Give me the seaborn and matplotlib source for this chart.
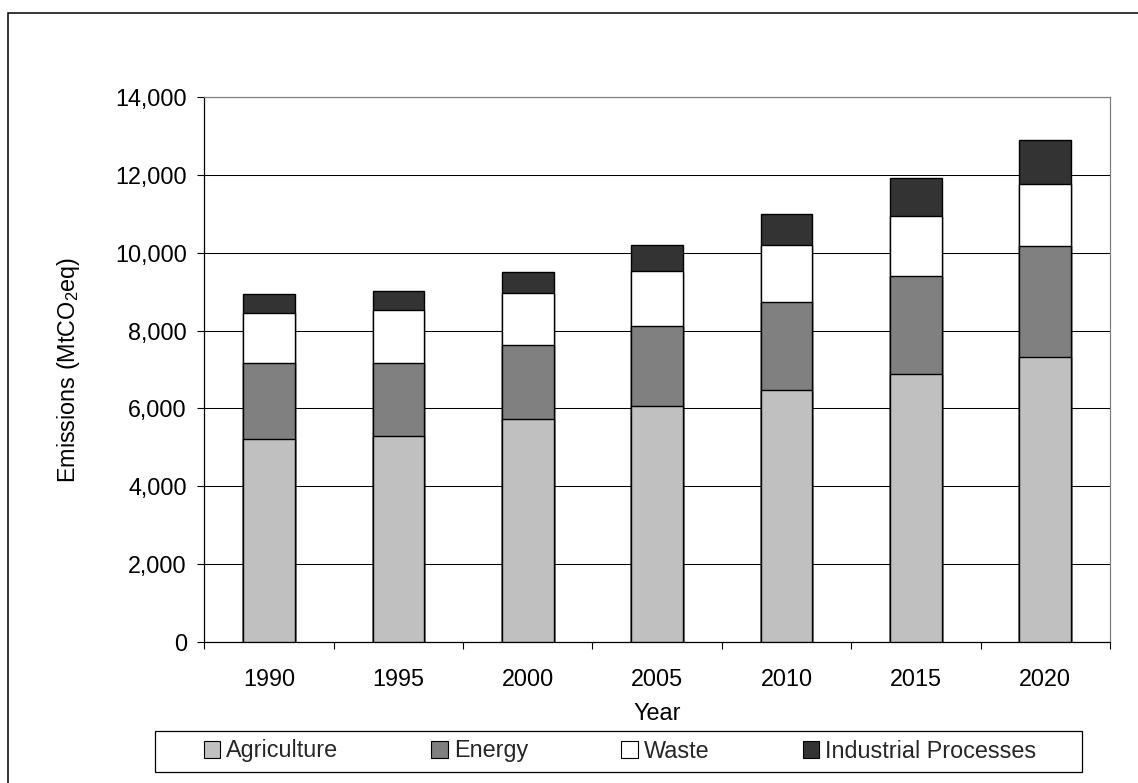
import numpy as np
import pandas as pd
import matplotlib
matplotlib.use("Agg")
import matplotlib.pyplot as plt
import seaborn as sns
from matplotlib.patches import Patch, Rectangle
from matplotlib.ticker import FuncFormatter, MultipleLocator

years = ["1990", "1995", "2000", "2005", "2010", "2015", "2020"]
agriculture = [5220, 5300, 5730, 6060, 6470, 6875, 7320]
energy = [1940, 1875, 1890, 2050, 2270, 2535, 2850]
waste = [1285, 1360, 1350, 1420, 1465, 1535, 1600]
industrial = [485, 490, 540, 670, 795, 975, 1125]

sectors = ["Agriculture", "Energy", "Waste", "Industrial Processes"]
colors = ["#c0c0c0", "#808080", "#ffffff", "#333333"]

df = pd.DataFrame({
    "Year": years,
    "Agriculture": agriculture,
    "Energy": energy,
    "Waste": waste,
    "Industrial Processes": industrial,
})
# stacked tops, drawn from the tallest down so the lower parts cover them
tops = df[sectors].cumsum(axis=1)
tops["Year"] = df["Year"]

sns.set_theme(style="white")
plt.rcParams["font.family"] = ["Liberation Sans", "DejaVu Sans"]
plt.rcParams["mathtext.fontset"] = "custom"
plt.rcParams["mathtext.rm"] = "Liberation Sans"
FS = 16.8

fig = plt.figure(figsize=(11.38, 7.83), dpi=100)
ax = fig.add_axes([0.17953, 0.18008, 0.79587, 0.69604])

for name, col in reversed(list(zip(sectors, colors))):
    sns.barplot(data=tops, x="Year", y=name, order=years, color=col,
                saturation=1, width=0.4, edgecolor="black", linewidth=1.0,
                ax=ax, zorder=3)

ax.set_xlim(-0.5, len(years) - 0.5)
ax.set_ylim(0, 14000)
ax.yaxis.set_major_locator(MultipleLocator(2000))
ax.yaxis.set_major_formatter(FuncFormatter(lambda v, p: f"{v:,.0f}"))
ax.yaxis.grid(True, color="black", linewidth=0.75)
ax.set_axisbelow(True)

ax.set_xticks(np.arange(len(years)))
ax.set_xticklabels(years)
ax.set_xticks(np.arange(len(years) + 1) - 0.5, minor=True)
ax.tick_params(axis="x", which="major", length=0, pad=18.5, labelsize=FS, colors="black")
ax.tick_params(axis="x", which="minor", length=5, width=0.8, direction="out", color="black", bottom=True)
ax.tick_params(axis="y", length=5, width=0.8, direction="out", pad=7.5, labelsize=FS, colors="black", left=True)

ax.set_xlabel("Year", fontsize=FS, labelpad=8.5, color="black")
ax.set_ylabel(r"Emissions (MtCO$_{\mathregular{2}}$eq)", fontsize=FS, labelpad=24, color="black")

for s in ["left", "bottom"]:
    ax.spines[s].set_color("black")
    ax.spines[s].set_linewidth(0.9)
for s in ["top", "right"]:
    ax.spines[s].set_color("#808080")
    ax.spines[s].set_linewidth(0.9)

handles = [Patch(facecolor=c, edgecolor="black", linewidth=0.8) for c in colors]
fig.legend(handles, sectors, loc="center", bbox_to_anchor=(620 / 1138, 1 - 751 / 783),
           ncol=4, frameon=False, fontsize=FS, handlelength=0.7, handleheight=0.7,
           handletextpad=0.26, columnspacing=4.0, borderpad=0.2)

# legend box and outer chart frame
fig.patches.append(Rectangle((155 / 1138, 1 - 772 / 783), 927 / 1138, 41 / 783,
                             transform=fig.transFigure, fill=False,
                             edgecolor="black", linewidth=0.9))
fig.patches.append(Rectangle((7.5 / 1138, -0.5), 2.0, 1.5 - 12.5 / 783,
                             transform=fig.transFigure, fill=False,
                             edgecolor="black", linewidth=1.1))

fig.savefig("out.png", dpi=100)
